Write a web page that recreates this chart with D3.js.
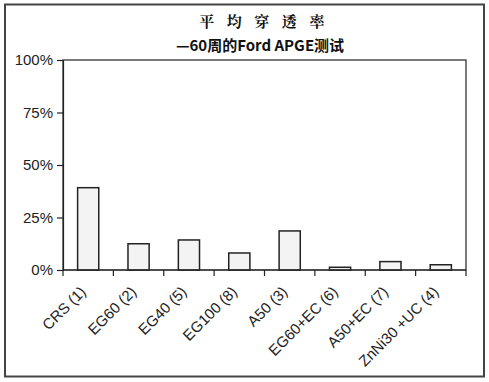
<!DOCTYPE html>
<html><head><meta charset="utf-8">
<script src="https://cdn.jsdelivr.net/npm/d3@7"></script>
<style>body{margin:0;background:#fff}svg{display:block}</style>
</head><body>
<script>
const categories = ["CRS (1)","EG60 (2)","EG40 (5)","EG100 (8)","A50 (3)","EG60+EC (6)","A50+EC (7)","ZnNi30 +UC (4)"];
const values = [39.2, 12.5, 14.3, 8.1, 18.6, 1.3, 4.0, 2.5];
const yTicks = [0, 25, 50, 75, 100];
const titleLine1 = "平 均 穿 透 率";
const titleLine2 = "—60周的Ford APGE测试";

const W = 489, H = 382;
const m = {left: 63, top: 60, right: 466, bottom: 270};
const svg = d3.select("body").append("svg").attr("width", W).attr("height", H);

svg.append("rect").attr("x", 5).attr("y", 4.5).attr("width", 479).attr("height", 372)
  .attr("fill", "#fff").attr("stroke", "#444").attr("stroke-width", 2);

const x = d3.scaleBand().domain(categories).range([m.left, m.right]).paddingInner(0.58).paddingOuter(0.29);
const y = d3.scaleLinear().domain([0, 100]).range([m.bottom, m.top]);

// plot box
svg.append("rect").attr("x", m.left).attr("y", m.top).attr("width", m.right - m.left).attr("height", m.bottom - m.top)
  .attr("fill", "none").attr("stroke", "#222").attr("stroke-width", 1.2);

// bars
svg.selectAll(".bar").data(values).join("rect")
  .attr("x", (d, i) => x(categories[i]))
  .attr("y", d => y(d))
  .attr("width", x.bandwidth())
  .attr("height", d => y(0) - y(d))
  .attr("fill", "#f3f3f3").attr("stroke", "#222").attr("stroke-width", 1.5);

// y axis
const yAxis = d3.axisLeft(y).tickValues(yTicks).tickFormat(d => d + "%").tickSize(6).tickPadding(4);
const gy = svg.append("g").attr("transform", `translate(${m.left},0)`).call(yAxis);
gy.select(".domain").attr("stroke", "#222").attr("stroke-width", 1.2);
gy.selectAll(".tick line").attr("stroke", "#222").attr("stroke-width", 1.2);
gy.selectAll("text").attr("font-family", "Liberation Sans, Arial, sans-serif").attr("font-size", 15).attr("fill", "#222");

// x axis with ticks between bands
const bandEdges = d3.range(categories.length + 1).map(i => m.left + i * (m.right - m.left) / categories.length);
const gx = svg.append("g");
gx.append("line").attr("x1", m.left).attr("x2", m.right).attr("y1", m.bottom).attr("y2", m.bottom)
  .attr("stroke", "#222").attr("stroke-width", 1.2);
gx.selectAll(".xt").data(bandEdges).join("line")
  .attr("x1", d => d).attr("x2", d => d).attr("y1", m.bottom).attr("y2", m.bottom + 6)
  .attr("stroke", "#222").attr("stroke-width", 1.2);
gx.selectAll(".xl").data(categories).join("text")
  .attr("transform", d => `translate(${x(d) + x.bandwidth() / 2 - 5},${m.bottom + 19}) rotate(-45)`)
  .attr("text-anchor", "end").attr("dy", "0.35em")
  .attr("font-family", "Liberation Sans, Arial, sans-serif").attr("font-size", 15).attr("fill", "#222")
  .text(d => d);

// titles
svg.append("text").attr("x", 264).attr("y", 27).attr("text-anchor", "middle")
  .attr("font-family", "Noto Serif CJK SC, Noto Sans CJK SC, serif").attr("font-size", 15).attr("font-weight", "bold")
  .attr("letter-spacing", 4.4)
  .attr("fill", "#111").text(titleLine1);
svg.append("text").attr("x", 260).attr("y", 51).attr("text-anchor", "middle")
  .attr("font-family", "Noto Sans CJK SC, sans-serif").attr("font-size", 15).attr("font-weight", "bold")
  .attr("fill", "#111").text(titleLine2);
</script>
</body></html>
